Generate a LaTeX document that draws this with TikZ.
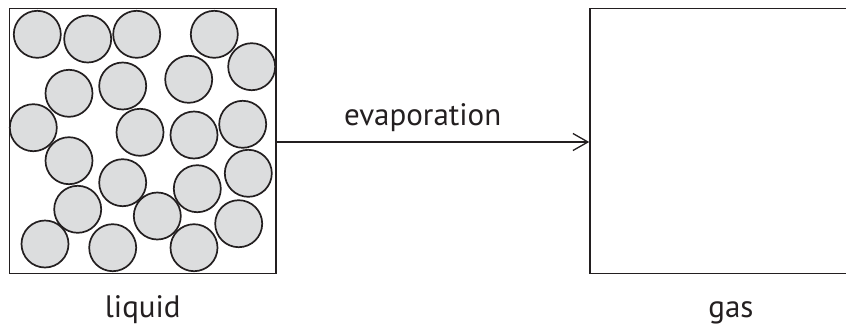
\documentclass[tikz,border=0pt]{standalone}
\usepackage{fontspec}
\setmainfont{PT Sans}
\usetikzlibrary{arrows.meta}
\definecolor{ballgray}{HTML}{DCDDDE}
\definecolor{ink}{HTML}{231F20}

\begin{document}
\begin{tikzpicture}[x=1pt,y=-1pt,
	ball/.style={circle,draw=ink,fill=ballgray,line width=1.7pt,minimum size=47pt,inner sep=0pt},
	tank/.style={draw=ink,line width=1.5pt,minimum height=265.2pt,inner sep=0pt},
	lbl/.style={font=\fontsize{31}{37}\selectfont,text=ink,anchor=base}]
	\useasboundingbox (0,0) rectangle (846,327);
	\clip (0,0) rectangle (846,327);
	% the two containers
	\node[tank,minimum width=266.5pt] (liq) at (142.75,140.9) {};
	\node[tank,minimum width=282pt] (gas) at (731,140.9) {};
	% molecules of the liquid
	\foreach \x/\y [count=\i] in {37.3/34.3, 87.7/39, 136.7/34.3, 214.3/34.3, 251.7/66.7,
		188.7/79.3, 122.7/86, 69/93.3, 33.3/127.7, 140/132.3, 194/135, 242.7/124.3,
		69/160.7, 122.7/182.7, 197.3/188.7, 248.3/173.3, 77.7/209.3, 157.3/216,
		238.7/223.7, 45/244, 112.7/247.7, 194/247.7}
		\node[ball] (ball\i) at (\x,\y) {};
	\draw[ink,line width=1.3pt,-{Straight Barb[length=15pt,width=17pt]}] (liq.east |- 0,142) -- (gas.west |- 0,142);
	\node[lbl] (evap) at (422.7,125) {evaporation};
	\node[lbl] (liqlbl) at (142.75,317) {liquid};
	\node[lbl] (gaslbl) at (731,317) {gas};
\end{tikzpicture}
\end{document}
